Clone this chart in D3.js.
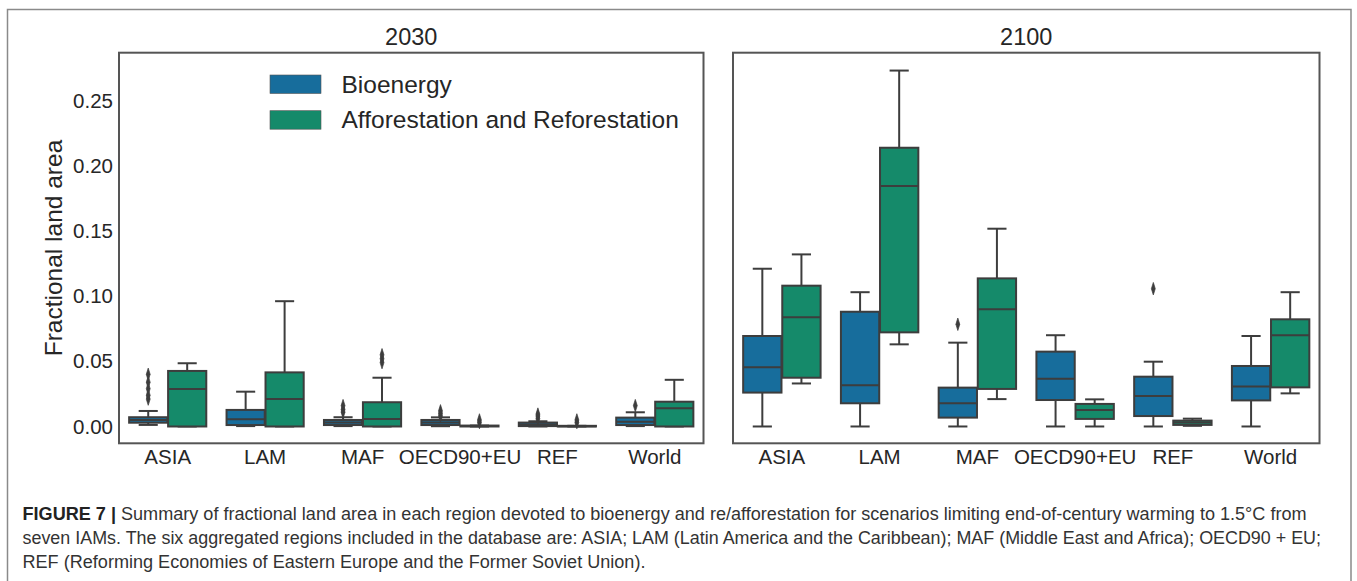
<!DOCTYPE html>
<html>
<head>
<meta charset="utf-8">
<script src="https://cdn.jsdelivr.net/npm/d3@7"></script>
<style>
  html, body { margin: 0; padding: 0; background: #fff; }
  svg { display: block; }
  text { font-family: "Liberation Sans", Arial, Helvetica, sans-serif; }
</style>
</head>
<body>
<svg id="chart" width="1357" height="581"></svg>
<script>
// ---------------- data ----------------
const regions = ["ASIA", "LAM", "MAF", "OECD90+EU", "REF", "World"];
const seriesNames = ["Bioenergy", "Afforestation and Reforestation"];
const seriesColors = ["#176d9c", "#158a6a"];
const panelTitles = ["2030", "2100"];
const yTicks = [0, 0.05, 0.10, 0.15, 0.20, 0.25];

// box stats per region: [lower whisker, q1, median, q3, upper whisker]
const bio2030 = [
  [0.0012, 0.0029, 0.0050, 0.0071, 0.0119],
  [0.0003, 0.0011, 0.0055, 0.0127, 0.0267],
  [0.0003, 0.0011, 0.0030, 0.0050, 0.0071],
  [0.0002, 0.0011, 0.0030, 0.0050, 0.0070],
  [0.0000, 0.0003, 0.0015, 0.0030, 0.0040],
  [0.0003, 0.0011, 0.0037, 0.0068, 0.0109]
];
const bio2030Outliers = [
  [0.021, 0.024, 0.029, 0.034, 0.040],
  [],
  [0.011, 0.013, 0.016],
  [0.008, 0.010, 0.012],
  [0.006, 0.008, 0.0095],
  [0.016]
];
const aff2030 = [
  [0, 0, 0.0288, 0.0426, 0.0485],
  [0, 0, 0.0211, 0.0415, 0.0961],
  [0, 0, 0.0058, 0.0186, 0.0374],
  [0, 0, 0.0003, 0.0007, 0.0007],
  [0, 0, 0.0002, 0.0005, 0.0005],
  [0, 0, 0.0140, 0.0190, 0.0358]
];
const aff2030Outliers = [[], [], [0.049, 0.052, 0.055], [0.003, 0.005], [0.003, 0.005], []];

const bio2100 = [
  [0, 0.0260, 0.0454, 0.0694, 0.1210],
  [0, 0.0178, 0.0316, 0.0880, 0.1030],
  [0, 0.0068, 0.0178, 0.0298, 0.0643],
  [0, 0.0203, 0.0367, 0.0574, 0.0700],
  [0, 0.0080, 0.0234, 0.0382, 0.0497],
  [0, 0.0200, 0.0306, 0.0464, 0.0694]
];
const bio2100Outliers = [[], [], [0.0784], [], [0.1057], []];
const aff2100 = [
  [0.0330, 0.0374, 0.0837, 0.1080, 0.1320],
  [0.0630, 0.0722, 0.1844, 0.2138, 0.2730],
  [0.0210, 0.0288, 0.0900, 0.1136, 0.1517],
  [0.0000, 0.0058, 0.0127, 0.0173, 0.0208],
  [0.0005, 0.0012, 0.0030, 0.0045, 0.0060],
  [0.0254, 0.0300, 0.0700, 0.0822, 0.1030]
];
const aff2100Outliers = [[], [], [], [], [], []];

const captionLines = [
  ["FIGURE 7 | ", "Summary of fractional land area in each region devoted to bioenergy and re/afforestation for scenarios limiting end-of-century warming to 1.5°C from"],
  ["", "seven IAMs. The six aggregated regions included in the database are: ASIA; LAM (Latin America and the Caribbean); MAF (Middle East and Africa); OECD90 + EU;"],
  ["", "REF (Reforming Economies of Eastern Europe and the Former Soviet Union)."]
];

const panels = [
  { title: panelTitles[0], stats: [bio2030, aff2030], outliers: [bio2030Outliers, aff2030Outliers], x0: 119, x1: 703.5, showY: true },
  { title: panelTitles[1], stats: [bio2100, aff2100], outliers: [bio2100Outliers, aff2100Outliers], x0: 733, x1: 1319.5, showY: false }
];

// ---------------- drawing ----------------
const svg = d3.select("#chart");
const lineCol = "#3d3d3d";
const textCol = "#262626";

// outer frame
svg.append("rect").attr("x", 7.5).attr("y", 9.5).attr("width", 1343.5).attr("height", 600)
  .attr("fill", "none").attr("stroke", "#8a8a8a").attr("stroke-width", 1.5);

const yTop = 52.7, yBot = 443.3;
const y = d3.scaleLinear().domain([-0.0129, 0.2867]).range([yBot, yTop]);

const diamond = d3.symbol().type(d3.symbolDiamond).size(34)();

panels.forEach(p => {
  const g = svg.append("g");
  const x = d3.scaleBand().domain(regions).range([p.x0, p.x1]).paddingInner(0).paddingOuter(0);
  const bw = x.bandwidth();
  const xs = d3.scaleBand().domain(seriesNames).range([0.1 * bw, 0.9 * bw]);
  const boxW = xs.bandwidth() * 0.98;

  seriesNames.forEach((s, si) => {
    regions.forEach((r, ri) => {
      const [lo, q1, med, q3, hi] = p.stats[si][ri];
      const cx = x(r) + xs(s) + xs.bandwidth() / 2;
      const bg = g.append("g");
      bg.append("line").attr("x1", cx).attr("x2", cx).attr("y1", y(q3)).attr("y2", y(hi))
        .attr("stroke", lineCol).attr("stroke-width", 2);
      bg.append("line").attr("x1", cx).attr("x2", cx).attr("y1", y(q1)).attr("y2", y(lo))
        .attr("stroke", lineCol).attr("stroke-width", 2);
      [lo, hi].forEach(v => {
        bg.append("line").attr("x1", cx - boxW / 4).attr("x2", cx + boxW / 4)
          .attr("y1", y(v)).attr("y2", y(v)).attr("stroke", lineCol).attr("stroke-width", 2);
      });
      bg.append("rect").attr("x", cx - boxW / 2).attr("width", boxW)
        .attr("y", y(q3)).attr("height", Math.max(0, y(q1) - y(q3)))
        .attr("fill", seriesColors[si]).attr("stroke", lineCol).attr("stroke-width", 2);
      bg.append("line").attr("x1", cx - boxW / 2).attr("x2", cx + boxW / 2)
        .attr("y1", y(med)).attr("y2", y(med)).attr("stroke", lineCol).attr("stroke-width", 2);
      p.outliers[si][ri].forEach(v => {
        bg.append("path").attr("d", diamond)
          .attr("transform", `translate(${cx},${y(v)}) scale(0.62,1.15)`)
          .attr("fill", lineCol).attr("stroke", lineCol).attr("stroke-width", 0.8);
      });
    });
  });

  g.append("rect").attr("x", p.x0).attr("y", yTop).attr("width", p.x1 - p.x0).attr("height", yBot - yTop)
    .attr("fill", "none").attr("stroke", "#555").attr("stroke-width", 2);

  const xAxis = d3.axisBottom(x).tickSize(0).tickPadding(0);
  const xg = g.append("g").attr("transform", `translate(0,${yBot})`).call(xAxis);
  xg.select(".domain").remove();
  xg.selectAll("text").attr("y", 20.5).attr("dy", 0).attr("font-size", "20.5px")
    .attr("font-family", "Liberation Sans, Arial, sans-serif").attr("fill", textCol);

  if (p.showY) {
    const yAxis = d3.axisLeft(y).tickValues(yTicks).tickFormat(d3.format(".2f")).tickSize(0).tickPadding(6);
    const yg = g.append("g").attr("transform", `translate(${p.x0},0)`).call(yAxis);
    yg.select(".domain").remove();
    yg.selectAll("text").attr("font-size", "20.5px")
      .attr("font-family", "Liberation Sans, Arial, sans-serif").attr("fill", textCol);
    g.append("text").attr("transform", `translate(62,${(yTop + yBot) / 2}) rotate(-90)`)
      .attr("text-anchor", "middle").attr("font-size", "24.5px").attr("fill", textCol)
      .text("Fractional land area");

    const lg = g.append("g");
    seriesNames.forEach((s, i) => {
      const by = 92.5 + i * 35.7;
      lg.append("rect").attr("x", 270).attr("y", by - 17.5).attr("width", 51).attr("height", 18.5)
        .attr("fill", seriesColors[i]).attr("stroke", "#555").attr("stroke-width", 0.6);
      lg.append("text").attr("x", 341.5).attr("y", by).attr("font-size", "24.5px").attr("fill", textCol).text(s);
    });
  }

  g.append("text").attr("x", (p.x0 + p.x1) / 2).attr("y", 45).attr("text-anchor", "middle")
    .attr("font-size", "23.5px").attr("fill", textCol).text(p.title);
});

// caption
const cap = svg.append("g");
const baseSize = 18;
const capTexts = captionLines.map((ln, i) => {
  const t = cap.append("text").attr("x", 22.5).attr("y", 520 + i * 24)
    .attr("font-size", baseSize + "px").attr("fill", "#333");
  if (ln[0]) t.append("tspan").attr("font-weight", "bold").attr("fill", "#222").text(ln[0]);
  t.append("tspan").text(ln[1]);
  return t;
});
const w0 = capTexts[0].node().getComputedTextLength();
const fitSize = baseSize * (1284.5 / w0);
capTexts.forEach(t => t.attr("font-size", fitSize + "px"));
capTexts[1].attr("textLength", 1298.5).attr("lengthAdjust", "spacingAndGlyphs");
</script>
</body>
</html>
